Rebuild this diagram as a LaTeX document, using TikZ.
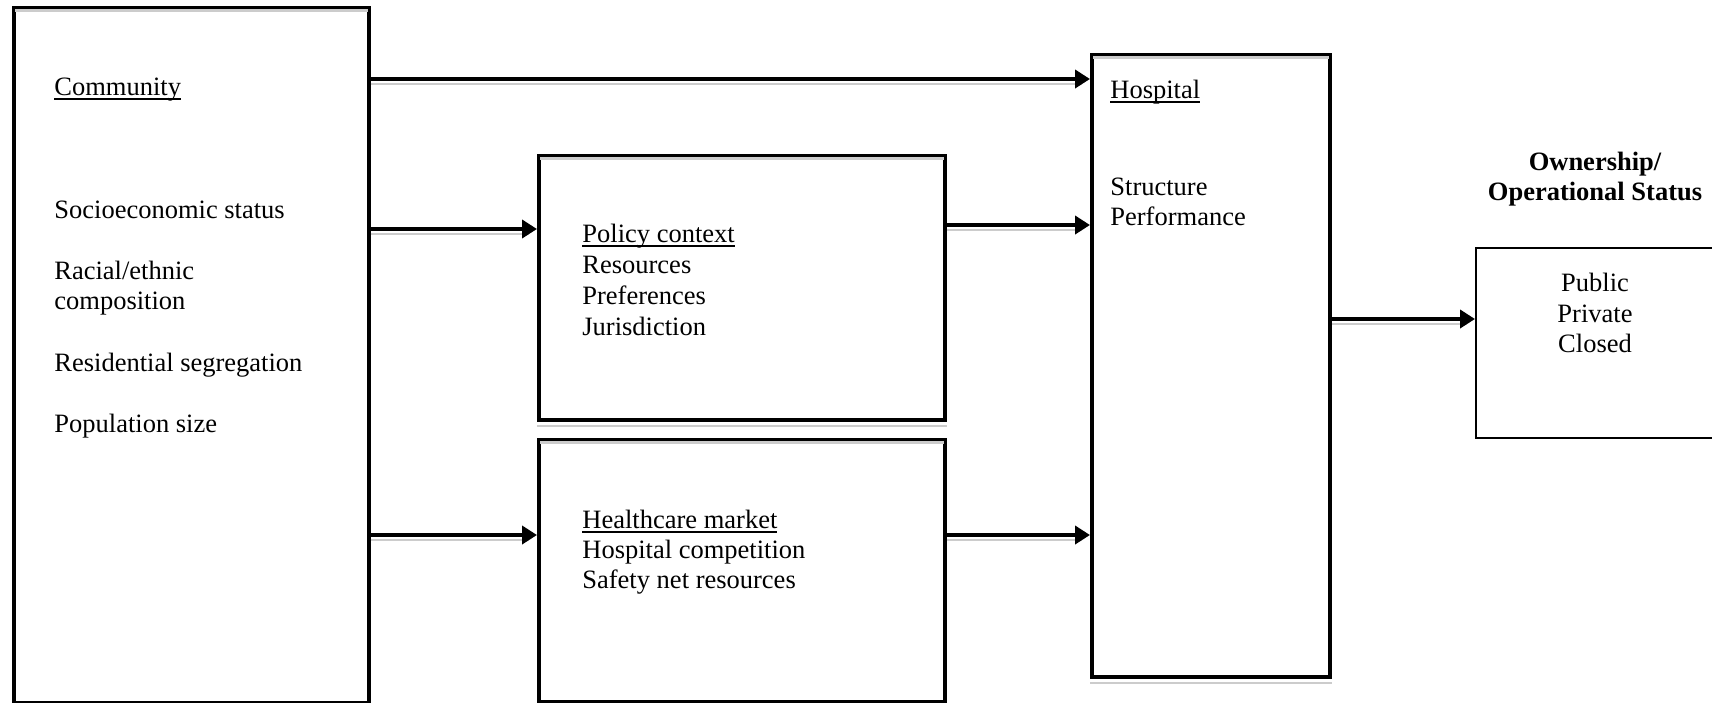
\documentclass[tikz,border=0pt]{standalone}
\usepackage{fontspec}
\setmainfont{Liberation Serif}
\usetikzlibrary{arrows.meta}
\newcommand\myul[1]{\setbox0\hbox{#1}\rlap{\rule[-2.6pt]{\wd0}{0.9pt}}#1}
\tikzset{
  px/.style={x=0.5pt,y=-0.5pt},
  box/.style={draw=black,line width=1.9pt,rectangle,inner sep=0pt,anchor=north west,fill=none},
  thinbox/.style={draw=black,line width=1.1pt,rectangle,inner sep=0pt,anchor=north west},
  txt/.style={inner sep=0pt,anchor=base west,font=\fontsize{13.25pt}{15.3pt}\selectfont},
  ctxt/.style={inner sep=0pt,anchor=base,font=\fontsize{13.25pt}{15.3pt}\selectfont},
  arr/.style={line width=2.3pt,-{Triangle[length=7.5pt,width=9pt]}},
  shadeline/.style={draw=gray!40,line width=1.1pt},
}
\begin{document}
\begin{tikzpicture}[px]
\useasboundingbox (0,0) rectangle (1712,702);
\fill[white] (0,0) rectangle (1712,702);

% boxes
\node[box,minimum width=177.5pt,minimum height=347.5pt] (comm) at (12,6) {};
\node[box,minimum width=203pt,minimum height=132pt] (pol) at (537,154) {};
\node[box,minimum width=203pt,minimum height=131pt] (hc) at (537,438) {};
\node[box,minimum width=119pt,minimum height=311pt] (hosp) at (1090,53) {};
\node[thinbox,minimum width=120pt,minimum height=95pt] (own) at (1475,247) {};

% faint grey shading
\draw[shadeline] ([xshift=1.5pt,yshift=-2.2pt]comm.north west) -- ([xshift=-1.5pt,yshift=-2.2pt]comm.north east);
\draw[shadeline] ([xshift=1.5pt,yshift=-2.2pt]pol.north west) -- ([xshift=-1.5pt,yshift=-2.2pt]pol.north east);
\draw[shadeline] ([yshift=-2.2pt]pol.south west) -- ([yshift=-2.2pt]pol.south east);
\draw[shadeline] ([xshift=1.5pt,yshift=-2.2pt]hc.north west) -- ([xshift=-1.5pt,yshift=-2.2pt]hc.north east);
\draw[shadeline] ([xshift=1.5pt,yshift=-2.2pt]hosp.north west) -- ([xshift=-1.5pt,yshift=-2.2pt]hosp.north east);
\draw[shadeline] ([yshift=-2.2pt]hosp.south west) -- ([yshift=-2.2pt]hosp.south east);

% rows for connectors
\coordinate (ya) at (0,79);
\coordinate (yb) at (0,229);
\coordinate (yc) at (0,535);
\coordinate (yd) at (0,225);
\coordinate (ye) at (0,319);

\draw[shadeline] ([yshift=-2.4pt]comm.east |- ya) -- ([xshift=-4pt,yshift=-2.4pt]hosp.west |- ya);
\draw[shadeline] ([yshift=-2.4pt]comm.east |- yb) -- ([xshift=-4pt,yshift=-2.4pt]pol.west |- yb);
\draw[shadeline] ([yshift=-2.4pt]comm.east |- yc) -- ([xshift=-4pt,yshift=-2.4pt]hc.west |- yc);
\draw[shadeline] ([yshift=-2.4pt]pol.east |- yd) -- ([xshift=-4pt,yshift=-2.4pt]hosp.west |- yd);
\draw[shadeline] ([yshift=-2.4pt]hc.east |- yc) -- ([xshift=-4pt,yshift=-2.4pt]hosp.west |- yc);
\draw[shadeline] ([yshift=-2.4pt]hosp.east |- ye) -- ([xshift=-4pt,yshift=-2.4pt]own.west |- ye);

% connectors
\draw[arr] (comm.east |- ya) -- (hosp.west |- ya);
\draw[arr] (comm.east |- yb) -- (pol.west |- yb);
\draw[arr] (comm.east |- yc) -- (hc.west |- yc);
\draw[arr] (pol.east |- yd) -- (hosp.west |- yd);
\draw[arr] (hc.east |- yc) -- (hosp.west |- yc);
\draw[arr] (hosp.east |- ye) -- (own.west |- ye);

% community texts
\node[txt] (t1) at (54,95) {\myul{Community}};
\node[txt] (t2) at (54,218) {Socioeconomic status};
\node[txt] (t3) at (54,279) {Racial/ethnic};
\node[txt] (t4) at (54,309) {composition};
\node[txt] (t5) at (54,371) {Residential segregation};
\node[txt] (t6) at (54,432) {Population size};

% policy texts
\node[txt] (p1) at (582,242) {\myul{Policy context}};
\node[txt] (p2) at (582,273) {Resources};
\node[txt] (p3) at (582,304) {Preferences};
\node[txt] (p4) at (582,335) {Jurisdiction};

% healthcare texts
\node[txt] (h1) at (582,528) {\myul{Healthcare market}};
\node[txt] (h2) at (582,558) {Hospital competition};
\node[txt] (h3) at (582,588) {Safety net resources};

% hospital texts
\node[txt] (s1) at (1110,98) {\myul{Hospital}};
\node[txt] (s2) at (1110,195) {Structure};
\node[txt] (s3) at (1110,225) {Performance};

% ownership
\node[ctxt,font=\fontsize{13.25pt}{15.3pt}\selectfont\bfseries] (o1) at (1595,170) {Ownership/};
\node[ctxt,font=\fontsize{13.25pt}{15.3pt}\selectfont\bfseries] (o2) at (1595,200) {Operational Status};
\node[ctxt] (o3) at (1595,291) {Public};
\node[ctxt] (o4) at (1595,322) {Private};
\node[ctxt] (o5) at (1595,352) {Closed};
\end{tikzpicture}
\end{document}
